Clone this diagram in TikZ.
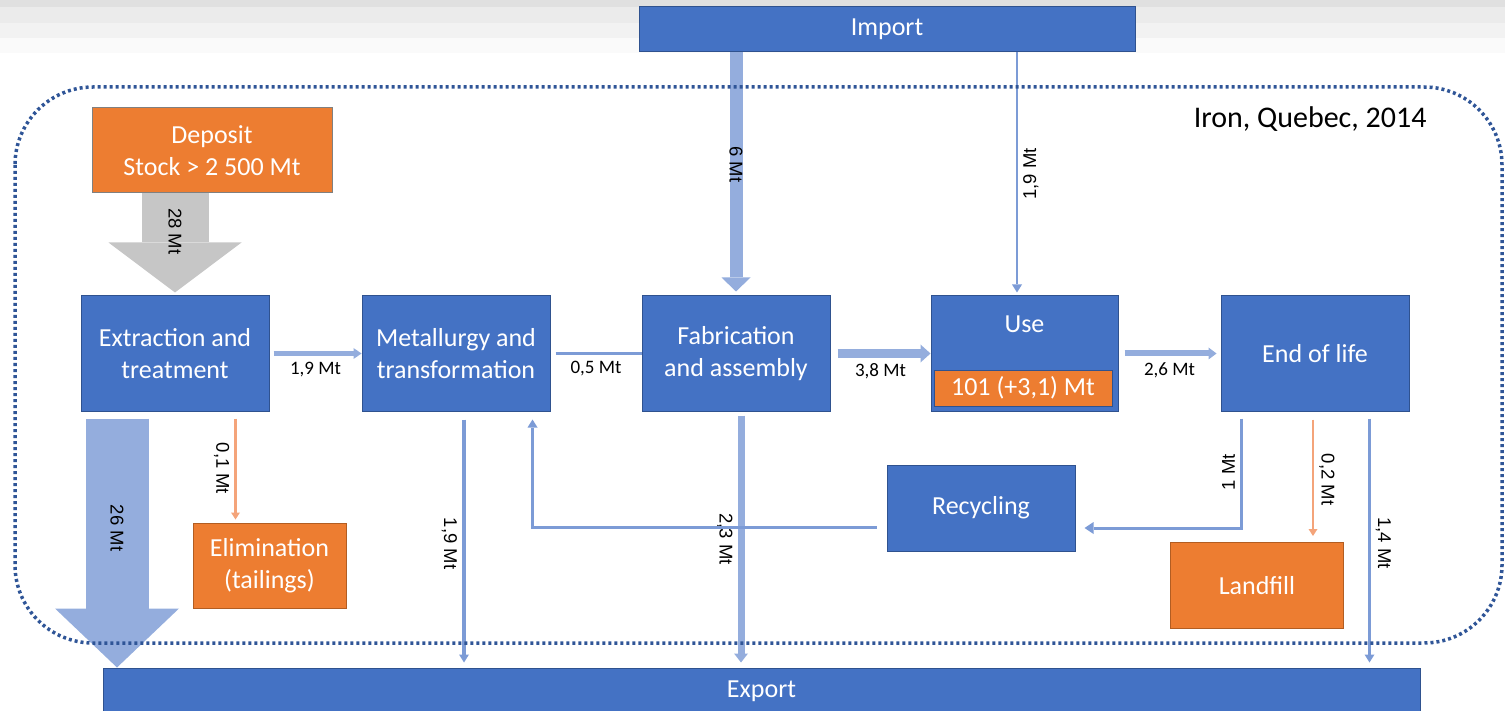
\documentclass[tikz,border=0pt]{standalone}
\usepackage{fontspec}
\setmainfont{Carlito}
\newfontfamily\arialfont{Liberation Sans}
\usetikzlibrary{arrows.meta}

\definecolor{boxblue}{HTML}{4472C4}
\definecolor{boxedge}{HTML}{2F528F}
\definecolor{stockorange}{HTML}{ED7D31}
\definecolor{stockedge}{HTML}{B25D22}
\definecolor{flowblue}{HTML}{94ADDD}
\definecolor{lineblue}{HTML}{7C9BD6}
\definecolor{flowgray}{HTML}{C6C6C6}
\definecolor{wasteline}{HTML}{F4A47A}
\definecolor{framedot}{HTML}{2F5597}

\begin{document}
\begin{tikzpicture}[x=1pt,y=-1pt,
  box/.style={draw=boxedge,fill=boxblue,text=white,line width=1pt,inner sep=0pt,
    align=center,font=\fontsize{26}{32}\selectfont},
  stockbox/.style={box,draw=stockedge,fill=stockorange},
  qty/.style={font=\fontsize{19}{22}\selectfont,inner sep=1pt},
  vqty/.style={font=\arialfont\fontsize{18.5}{22}\selectfont,inner sep=5pt},
  thinflow/.style={lineblue,line width=3pt,-{Triangle[width=10pt,length=8pt,line width=0pt]}},
  wasteflow/.style={wasteline,line width=2.5pt,-{Triangle[width=9pt,length=7pt,line width=0pt]}}]
\useasboundingbox (0,0) rectangle (1505,711);
% slide header bands
\fill[black!12] (0,0) rectangle (1505,7);
\fill[black!8] (0,7) rectangle (1505,23);
\fill[black!5] (0,23) rectangle (1505,38);
\fill[black!2] (0,38) rectangle (1505,53);

% stocks and processes
\node[box,minimum width=496pt,minimum height=45pt] (imp) at (887,29.5) {Import};
\node[stockbox,draw=black!50,minimum width=240pt,minimum height=85pt] (dep) at (212,150.5) {Deposit\\Stock > 2 500 Mt};
\node[box,minimum width=188pt,minimum height=115pt] (ext) at (175,353.5) {Extraction and\\treatment};
\node[box,minimum width=188pt,minimum height=115pt] (met) at (456,353.5) {Metallurgy and\\transformation};
\node[box,minimum width=188pt,minimum height=115pt] (fab) at (736,353.5) {Fabrication\\and assembly};
\node[box,minimum width=187pt,minimum height=115pt] (use) at (1024.5,353.5) {};
\node[text=white,font=\fontsize{26}{32}\selectfont] (uselbl) at (1024.5,324) {Use};
\node[stockbox,draw=boxedge,minimum width=178pt,minimum height=36pt] (usestock) at (1023,388) {101 (+3,1) Mt};
\node[box,minimum width=188pt,minimum height=115pt] (eol) at (1315,353.5) {End of life};
\node[box,minimum width=188pt,minimum height=86pt] (rec) at (981,508) {Recycling};
\node[stockbox,minimum width=153pt,minimum height=85pt] (elim) at (269.5,565.5) {Elimination\\(tailings)};
\node[stockbox,minimum width=173pt,minimum height=86pt] (land) at (1257,585.5) {Landfill};
\node[box,minimum width=1317pt,minimum height=46pt] (exp) at (761.5,691) {Export};
\node[anchor=base east,font=\fontsize{30}{36}\selectfont] (title) at (1430,128) {Iron, Quebec, 2014};

% start points of the flows
\coordinate (extout) at ([shift={(36.5,7)}]ext.south west);
\coordinate (extwaste) at ([shift={(-34,7)}]ext.south east);
\coordinate (metout) at ([shift={(8,8)}]met.south);
\coordinate (fabout) at ([shift={(5,4)}]fab.south);
\coordinate (recout) at ([shift={(-10,19)}]rec.west);
\coordinate (recin) at ([shift={(-18,8)}]met.south east);
\coordinate (eolrec) at ([shift={(21,7)}]eol.south west);
\coordinate (recend) at ([shift={(9,20)}]rec.east);
\coordinate (eolwaste) at ([shift={(-2,8)}]eol.south);
\coordinate (eolout) at ([shift={(-40,7)}]eol.south east);
\coordinate (useto) at ([shift={(-7.5,0)}]use.north);

% flows
\draw[flowgray,line width=67pt,-{Triangle[width=133pt,length=50pt,line width=0pt]},shorten >=3pt]
  (dep.south -| ext.north) -- (ext.north) node[vqty,pos=.37,rotate=-90,inner sep=0pt,text=black] {28 Mt};
\draw[flowblue,line width=63pt,-{Triangle[width=124pt,length=59pt,line width=0pt]}]
  (extout) -- (extout |- exp.north) node[vqty,pos=.44,rotate=-90,inner sep=0pt,text=black] {26 Mt};
\draw[flowblue,line width=13pt,-{Triangle[width=29pt,length=14pt,line width=0pt]},shorten >=4pt]
  (imp.south -| fab.north) -- (fab.north) node[vqty,pos=.46,rotate=-90,inner sep=0pt,text=black] {6 Mt};
\draw[thinflow,line width=2.5pt,shorten >=3pt]
  (imp.south -| useto) -- (useto) node[vqty,pos=.5,rotate=90,anchor=north,text=black] {1,9 Mt};

\draw[flowblue,line width=5.5pt,-{Triangle[width=11pt,length=8pt,line width=0pt]},shorten <=4pt]
  (ext.east) -- (met.west) node[qty,midway,below=5pt,text=black] {1,9 Mt};
\draw[lineblue,line width=3pt,shorten <=5pt]
  (met.east) -- (fab.west) node[qty,midway,below=5pt,text=black] {0,5 Mt};
\draw[flowblue,line width=9pt,-{Triangle[width=18pt,length=10pt,line width=0pt]},shorten <=7pt]
  (fab.east) -- (use.west) node[qty,midway,below=5pt,text=black] {3,8 Mt};
\draw[flowblue,line width=6pt,-{Triangle[width=12pt,length=8pt,line width=0pt]},shorten <=6pt,shorten >=4pt]
  (use.east) -- (eol.west) node[qty,midway,below=5pt,text=black] {2,6 Mt};

\draw[wasteflow,shorten >=3pt]
  (extwaste) -- (extwaste |- elim.north) node[vqty,pos=.48,rotate=-90,anchor=north,text=black] {0,1 Mt};
\draw[thinflow,line width=4pt,shorten >=5pt]
  (metout) -- (metout |- exp.north) node[vqty,pos=.5,rotate=-90,anchor=north,text=black] {1,9 Mt};
\draw[flowblue,line width=7pt,-{Triangle[width=14pt,length=9pt,line width=0pt]},shorten >=5pt]
  (fabout) -- (fabout |- exp.north) node[vqty,pos=.49,rotate=-90,anchor=north,text=black] {2,3 Mt};
\draw[thinflow] (recout) -| (recin);
\draw[thinflow,-{Triangle[width=12pt,length=9pt,line width=0pt]}]
  (eolrec) |- (recend) node[vqty,pos=.245,rotate=90,anchor=south,text=black] {1 Mt};
\draw[wasteflow,shorten >=6pt]
  (eolwaste) -- (eolwaste |- land.north) node[vqty,pos=.49,rotate=-90,anchor=south,text=black] {0,2 Mt};
\draw[thinflow,line width=2.5pt,shorten >=5pt]
  (eolout) -- (eolout |- exp.north) node[vqty,pos=.5,rotate=-90,anchor=south,text=black] {1,4 Mt};

% system boundary
\draw[framedot,line width=3.5pt,dash pattern=on 3pt off 3pt,rounded corners=78pt]
  (15,87) rectangle (1502,643);
\end{tikzpicture}
\end{document}
